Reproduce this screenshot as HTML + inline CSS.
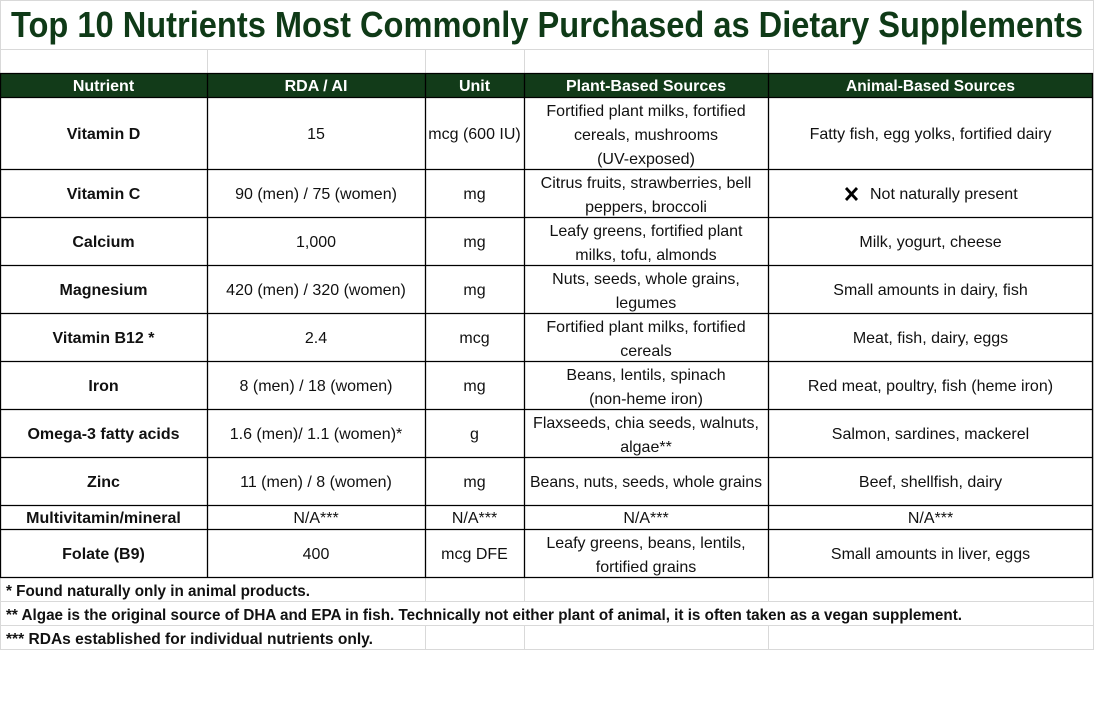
<!DOCTYPE html>
<html><head><meta charset="utf-8"><style>
html,body{margin:0;padding:0;background:#fff;}
svg{display:block;}
text{font-family:"Liberation Sans",Arial,sans-serif;}
</style></head><body>
<svg width="1094" height="716" viewBox="0 0 1094 716" xmlns="http://www.w3.org/2000/svg">
<rect x="0" y="0" width="1094" height="716" fill="#fff"/>
<!-- light gridlines -->
<g stroke="#d9d9d9" stroke-width="1" fill="none">
<line x1="0" y1="0.5" x2="1094" y2="0.5"/>
<line x1="0.5" y1="0" x2="0.5" y2="650"/>
<line x1="0" y1="49.5" x2="1094" y2="49.5"/>
<line x1="1093.5" y1="0" x2="1093.5" y2="650"/>
<line x1="207.5" y1="49" x2="207.5" y2="73"/>
<line x1="425.5" y1="49" x2="425.5" y2="73"/>
<line x1="524.5" y1="49" x2="524.5" y2="73"/>
<line x1="768.5" y1="49" x2="768.5" y2="73"/>
<line x1="0" y1="601.5" x2="1094" y2="601.5"/>
<line x1="0" y1="625.5" x2="1094" y2="625.5"/>
<line x1="0" y1="649.5" x2="1094" y2="649.5"/>
<line x1="425.5" y1="577" x2="425.5" y2="601"/>
<line x1="524.5" y1="577" x2="524.5" y2="601"/>
<line x1="768.5" y1="577" x2="768.5" y2="601"/>
<line x1="425.5" y1="625" x2="425.5" y2="649"/>
<line x1="524.5" y1="625" x2="524.5" y2="649"/>
<line x1="768.5" y1="625" x2="768.5" y2="649"/>
</g>
<!-- title -->
<text x="11" y="37" font-size="36" font-weight="bold" fill="#0f3a17" textLength="1072" lengthAdjust="spacingAndGlyphs">Top 10 Nutrients Most Commonly Purchased as Dietary Supplements</text>
<!-- header -->
<rect x="0" y="73" width="1093" height="24" fill="#123b19"/>
<g font-size="16" font-weight="bold" fill="#fff" text-anchor="middle">
<text x="103.5" y="91">Nutrient</text>
<text x="316" y="91">RDA / AI</text>
<text x="474.5" y="91">Unit</text>
<text x="646" y="91">Plant-Based Sources</text>
<text x="930.5" y="91" textLength="169" lengthAdjust="spacingAndGlyphs">Animal-Based Sources</text>
</g>
<!-- black borders -->
<g stroke="#000" stroke-width="1.3" fill="none">
<line x1="0" y1="73.5" x2="1093" y2="73.5"/>
<line x1="0" y1="97.5" x2="1093" y2="97.5"/>
<line x1="0" y1="169.5" x2="1093" y2="169.5"/>
<line x1="0" y1="217.5" x2="1093" y2="217.5"/>
<line x1="0" y1="265.5" x2="1093" y2="265.5"/>
<line x1="0" y1="313.5" x2="1093" y2="313.5"/>
<line x1="0" y1="361.5" x2="1093" y2="361.5"/>
<line x1="0" y1="409.5" x2="1093" y2="409.5"/>
<line x1="0" y1="457.5" x2="1093" y2="457.5"/>
<line x1="0" y1="505.5" x2="1093" y2="505.5"/>
<line x1="0" y1="529.5" x2="1093" y2="529.5"/>
<line x1="0" y1="577.5" x2="1093" y2="577.5"/>
<line x1="0.5" y1="73" x2="0.5" y2="578"/>
<line x1="207.5" y1="73" x2="207.5" y2="578"/>
<line x1="425.5" y1="73" x2="425.5" y2="578"/>
<line x1="524.5" y1="73" x2="524.5" y2="578"/>
<line x1="768.5" y1="73" x2="768.5" y2="578"/>
<line x1="1092.5" y1="73" x2="1092.5" y2="578"/>
</g>
<!-- first column bold -->
<g font-size="16" font-weight="bold" fill="#111" text-anchor="middle">
<text x="103.5" y="139">Vitamin D</text>
<text x="103.5" y="199">Vitamin C</text>
<text x="103.5" y="247">Calcium</text>
<text x="103.5" y="295">Magnesium</text>
<text x="103.5" y="343">Vitamin B12 *</text>
<text x="103.5" y="391">Iron</text>
<text x="103.5" y="439">Omega-3 fatty acids</text>
<text x="103.5" y="487">Zinc</text>
<text x="103.5" y="523">Multivitamin/mineral</text>
<text x="103.5" y="559">Folate (B9)</text>
</g>
<!-- body text -->
<g font-size="16" fill="#111" text-anchor="middle">
<text x="316" y="139">15</text>
<text x="474.5" y="139">mcg (600 IU)</text>
<text x="646" y="116">Fortified plant milks, fortified</text>
<text x="646" y="140">cereals, mushrooms</text>
<text x="646" y="164">(UV-exposed)</text>
<text x="930.5" y="139">Fatty fish, egg yolks, fortified dairy</text>

<text x="316" y="199">90 (men) / 75 (women)</text>
<text x="474.5" y="199">mg</text>
<text x="646" y="188">Citrus fruits, strawberries, bell</text>
<text x="646" y="212">peppers, broccoli</text>

<text x="316" y="247">1,000</text>
<text x="474.5" y="247">mg</text>
<text x="646" y="236">Leafy greens, fortified plant</text>
<text x="646" y="260">milks, tofu, almonds</text>
<text x="930.5" y="247">Milk, yogurt, cheese</text>

<text x="316" y="295">420 (men) / 320 (women)</text>
<text x="474.5" y="295">mg</text>
<text x="646" y="284">Nuts, seeds, whole grains,</text>
<text x="646" y="308">legumes</text>
<text x="930.5" y="295">Small amounts in dairy, fish</text>

<text x="316" y="343">2.4</text>
<text x="474.5" y="343">mcg</text>
<text x="646" y="332">Fortified plant milks, fortified</text>
<text x="646" y="356">cereals</text>
<text x="930.5" y="343">Meat, fish, dairy, eggs</text>

<text x="316" y="391">8 (men) / 18 (women)</text>
<text x="474.5" y="391">mg</text>
<text x="646" y="380">Beans, lentils, spinach</text>
<text x="646" y="404">(non-heme iron)</text>
<text x="930.5" y="391">Red meat, poultry, fish (heme iron)</text>

<text x="316" y="439">1.6 (men)/ 1.1 (women)*</text>
<text x="474.5" y="439">g</text>
<text x="646" y="428">Flaxseeds, chia seeds, walnuts,</text>
<text x="646" y="452">algae**</text>
<text x="930.5" y="439">Salmon, sardines, mackerel</text>

<text x="316" y="487">11 (men) / 8 (women)</text>
<text x="474.5" y="487">mg</text>
<text x="646" y="487" textLength="232" lengthAdjust="spacingAndGlyphs">Beans, nuts, seeds, whole grains</text>
<text x="930.5" y="487">Beef, shellfish, dairy</text>

<text x="316" y="523">N/A***</text>
<text x="474.5" y="523">N/A***</text>
<text x="646" y="523">N/A***</text>
<text x="930.5" y="523">N/A***</text>

<text x="316" y="559">400</text>
<text x="474.5" y="559">mcg DFE</text>
<text x="646" y="548">Leafy greens, beans, lentils,</text>
<text x="646" y="572">fortified grains</text>
<text x="930.5" y="559">Small amounts in liver, eggs</text>
</g>
<!-- X icon + text -->
<g stroke="#000" stroke-width="2.8" stroke-linecap="butt">
<line x1="846" y1="188" x2="857" y2="200"/>
<line x1="857" y1="188" x2="846" y2="200"/>
</g>
<text x="870" y="199" font-size="16" fill="#111">Not naturally present</text>
<!-- footnotes -->
<g font-size="16" font-weight="bold" fill="#111">
<text x="6" y="596" textLength="304" lengthAdjust="spacingAndGlyphs">* Found naturally only in animal products.</text>
<text x="6" y="620" textLength="956" lengthAdjust="spacingAndGlyphs">** Algae is the original source of DHA and EPA in fish. Technically not either plant of animal, it is often taken as a vegan supplement.</text>
<text x="6" y="644" textLength="367" lengthAdjust="spacingAndGlyphs">*** RDAs established for individual nutrients only.</text>
</g>
</svg>
</body></html>
